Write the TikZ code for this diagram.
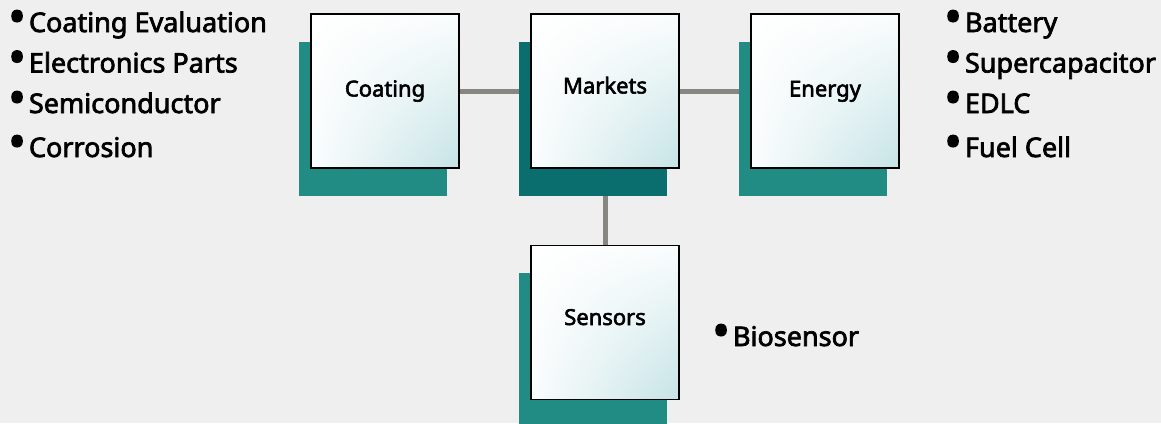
\documentclass[tikz,border=0pt]{standalone}
\usepackage{fontspec}
\setmainfont{Noto Sans}
\newfontfamily\semib{Noto Sans}[FakeBold=2.6]
\usetikzlibrary{shadows,shadings,positioning}

\definecolor{bggray}{RGB}{239,239,239}
\definecolor{tintc}{RGB}{197,227,230}
\definecolor{tealA}{RGB}{32,140,131}
\definecolor{tealB}{RGB}{11,110,110}
\definecolor{linkgray}{RGB}{136,134,128}

\pgfdeclarelayer{bg}
\pgfsetlayers{bg,main}

\newcommand{\bul}{\smash{\raisebox{-1.3pt}{\scalebox{1.75}{\textbullet}}}\hspace{3pt}}

\begin{document}
\begin{tikzpicture}[x=1pt,y=-1pt,
  box/.style={draw=black,line width=1.6pt,shade,
    upper left=white,upper right=white!92!tintc,
    lower left=white!92!tintc,lower right=tintc,
    minimum width=148pt,minimum height=154pt,inner sep=0pt,
    text height=16pt,text depth=5pt,
    font=\fontsize{22}{26}\semib},
  raised/.style={text depth=11pt},
  tealshadow/.style={general shadow={fill=#1,shadow xshift=-12.5pt,shadow yshift=-27.5pt}},
  link/.style={draw=linkgray,line width=5pt},
  item/.style={anchor=base west,inner sep=0pt,font=\fontsize{27}{30}\semib}]

\useasboundingbox (0,0) rectangle (1161,423);

% --- Riquadri ---
\node[box,tealshadow=tealA] (coating) at (385,91) {Coating};
\node[box,raised,tealshadow=tealB] (markets) at (605,91) {Markets};
\node[box,tealshadow=tealA] (energy) at (825,91) {Energy};
\node[box,raised,tealshadow=tealA] (sensors) at (605,322.5) {Sensors};

% --- Collegamenti ---
\begin{pgfonlayer}{bg}
  \fill[bggray] (0,0) rectangle (1161,423);
  \draw[link] (coating) -- (markets) -- (energy);
  \draw[link] (markets) -- (sensors);
\end{pgfonlayer}

% --- Elenchi ---
\node[item] (l1) at (8,32) {\bul Coating Evaluation};
\node[item] (l2) at (8,72.5) {\bul Electronics Parts};
\node[item] (l3) at (8,113) {\bul Semiconductor};
\node[item] (l4) at (8,157) {\bul Corrosion};

\node[item] (r1) at (944,32) {\bul Battery};
\node[item] (r2) at (944,72.5) {\bul Supercapacitor};
\node[item] (r3) at (944,113) {\bul EDLC};
\node[item] (r4) at (944,157) {\bul Fuel Cell};

\node[item] (bio) at (712,346) {\bul Biosensor};

\end{tikzpicture}
\end{document}
